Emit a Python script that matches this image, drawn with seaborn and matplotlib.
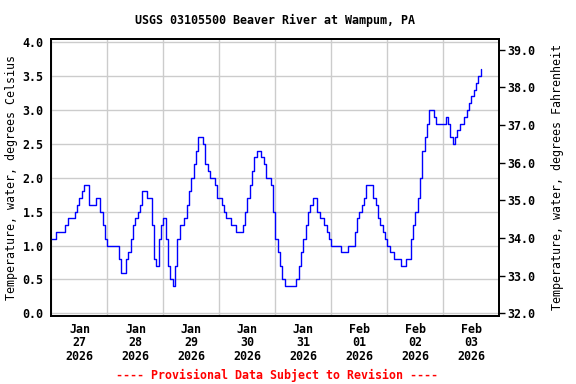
import numpy as np
import pandas as pd
import matplotlib
matplotlib.use('Agg')
import matplotlib.pyplot as plt
import seaborn as sns

# hourly water temperature (deg C), starting Jan 27 2026 00:00
jan27 = [1.1, 1.1, 1.2, 1.2, 1.2, 1.2, 1.3, 1.4, 1.4, 1.4, 1.5, 1.6, 1.7, 1.8, 1.9, 1.9, 1.6, 1.6, 1.6, 1.7, 1.7, 1.5, 1.3, 1.1]
jan28 = [1.0, 1.0, 1.0, 1.0, 1.0, 0.8, 0.6, 0.6, 0.8, 0.9, 1.1, 1.3, 1.4, 1.5, 1.6, 1.8, 1.8, 1.7, 1.7, 1.3, 0.8, 0.7, 1.1, 1.3]
jan29 = [1.4, 1.1, 0.7, 0.5, 0.4, 0.7, 1.1, 1.3, 1.3, 1.4, 1.6, 1.8, 2.0, 2.2, 2.4, 2.6, 2.6, 2.5, 2.2, 2.1, 2.0, 2.0, 1.9, 1.7]
jan30 = [1.7, 1.6, 1.5, 1.4, 1.4, 1.3, 1.3, 1.2, 1.2, 1.2, 1.3, 1.5, 1.7, 1.9, 2.1, 2.3, 2.4, 2.4, 2.3, 2.2, 2.0, 2.0, 1.9, 1.5]
jan31 = [1.1, 0.9, 0.7, 0.5, 0.4, 0.4, 0.4, 0.4, 0.4, 0.5, 0.7, 0.9, 1.1, 1.3, 1.5, 1.6, 1.7, 1.7, 1.5, 1.4, 1.4, 1.3, 1.2, 1.1]
feb01 = [1.0, 1.0, 1.0, 1.0, 0.9, 0.9, 0.9, 1.0, 1.0, 1.0, 1.2, 1.4, 1.5, 1.6, 1.7, 1.9, 1.9, 1.9, 1.7, 1.6, 1.4, 1.3, 1.2, 1.1]
feb02 = [1.0, 0.9, 0.9, 0.8, 0.8, 0.8, 0.7, 0.7, 0.8, 0.8, 1.1, 1.3, 1.5, 1.7, 2.0, 2.4, 2.6, 2.8, 3.0, 3.0, 2.9, 2.8, 2.8, 2.8]
feb03 = [2.8, 2.9, 2.8, 2.6, 2.5, 2.6, 2.7, 2.8, 2.8, 2.9, 3.0, 3.1, 3.2, 3.3, 3.4, 3.5, 3.6]

day_labels = ['Jan\n27\n2026', 'Jan\n28\n2026', 'Jan\n29\n2026', 'Jan\n30\n2026',
              'Jan\n31\n2026', 'Feb\n01\n2026', 'Feb\n02\n2026', 'Feb\n03\n2026']
celsius_ticks = [0.0, 0.5, 1.0, 1.5, 2.0, 2.5, 3.0, 3.5, 4.0]
fahrenheit_ticks = [32.0, 33.0, 34.0, 35.0, 36.0, 37.0, 38.0, 39.0]

temps = jan27 + jan28 + jan29 + jan30 + jan31 + feb01 + feb02 + feb03
df = pd.DataFrame({'time': pd.date_range('2026-01-27 00:00', periods=len(temps), freq='h'),
                   'temp': temps})

sns.set_style('white')
plt.rcParams['font.family'] = ['DejaVu Sans Mono']
plt.rcParams['font.weight'] = 'bold'
plt.rcParams['font.size'] = 8.4
plt.rcParams['text.color'] = 'black'
plt.rcParams['axes.labelcolor'] = 'black'
plt.rcParams['xtick.color'] = 'black'
plt.rcParams['ytick.color'] = 'black'

fig = plt.figure(figsize=(5.76, 3.84), dpi=100)
ax = fig.add_axes([0.0894, 0.178, 0.7774, 0.7197])

sns.lineplot(data=df, x='time', y='temp', ax=ax, color='#0000ff', linewidth=1.0,
             drawstyle='steps-post', zorder=3)

start = pd.Timestamp('2026-01-27')
end = pd.Timestamp('2026-02-04')
ax.set_xlim(start, end)
ax.set_ylim(-0.035, 4.044)

# grid at midnight, labels at noon
ax.set_xticks(pd.date_range(start, end, freq='D'))
ax.set_xticklabels([])
ax.set_xticks(pd.date_range('2026-01-27 12:00', periods=len(day_labels), freq='D'), day_labels, minor=True)
ax.tick_params(axis='x', which='both', length=0, pad=5)
for lab in ax.get_xticklabels(minor=True):
    lab.set_linespacing(1.05)

ax.set_yticks(celsius_ticks)
ax.set_yticklabels([f'{v:.1f}' for v in celsius_ticks])
ax.tick_params(axis='y', length=0, pad=5.8)

ax.grid(True, which='major', color='#cccccc', linewidth=1.0)
ax.set_axisbelow(True)
for sp in ax.spines.values():
    sp.set_color('black')
    sp.set_linewidth(1.3)

ax.set_xlabel('')
ax.set_ylabel('Temperature, water, degrees Celsius', labelpad=3)
ax.set_title('USGS 03105500 Beaver River at Wampum, PA', fontsize=8.4, fontweight='bold', pad=11)

ax2 = ax.twinx()
lo, hi = ax.get_ylim()
ax2.set_ylim(lo * 1.8 + 32, hi * 1.8 + 32)
ax2.set_yticks(fahrenheit_ticks)
ax2.set_yticklabels([f'{v:.1f}' for v in fahrenheit_ticks])
ax2.tick_params(axis='y', length=4, width=1, color='black', direction='out', right=True, pad=2)
ax2.set_ylabel('Temperature, water, degrees Fahrenheit', labelpad=11)
ax2.grid(False)
for sp in ax2.spines.values():
    sp.set_color('black')
    sp.set_linewidth(1.3)

fig.text(0.481, 0.023, '---- Provisional Data Subject to Revision ----', color='red',
         ha='center', va='center', fontsize=8.4, fontweight='bold')

fig.savefig('out.png', dpi=100)
